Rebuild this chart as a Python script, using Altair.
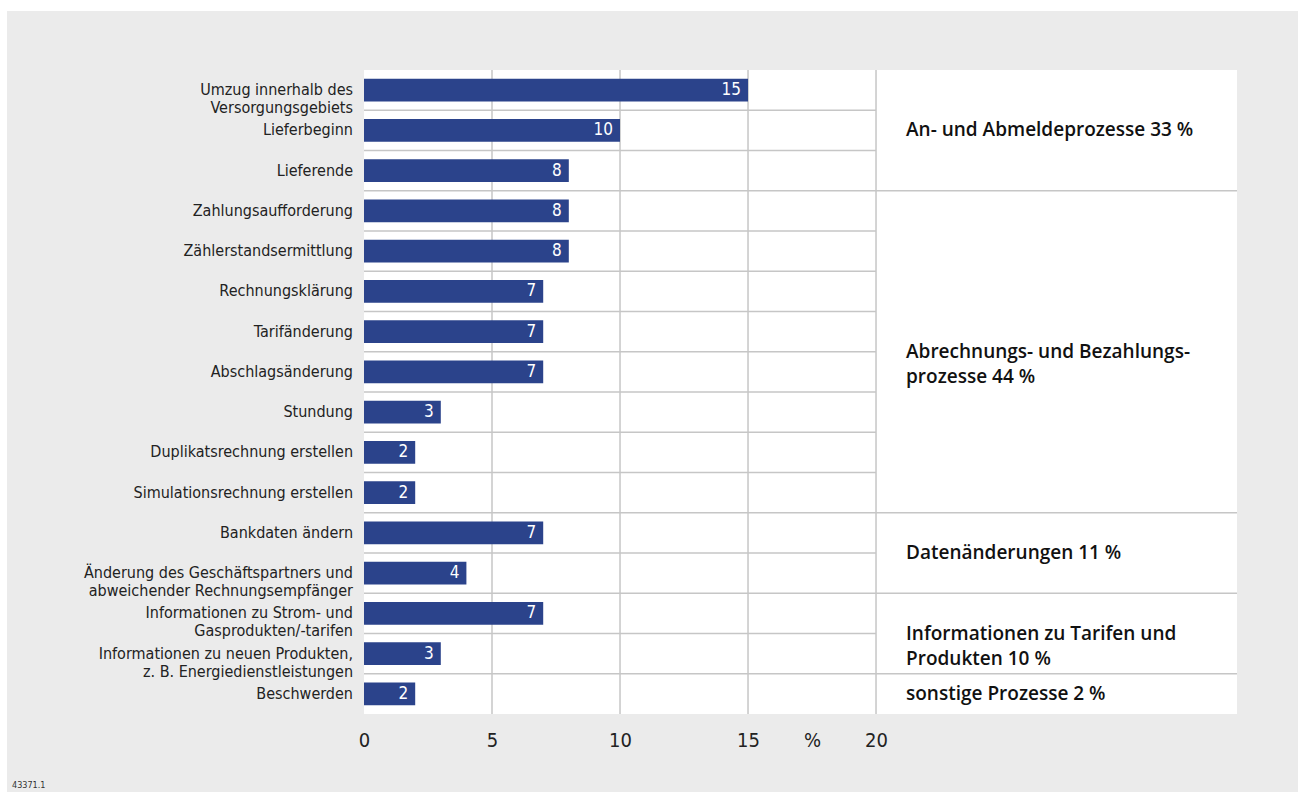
import altair as alt
import pandas as pd

# ---- data ----
labels = [
    "Umzug innerhalb des\nVersorgungsgebiets",
    "Lieferbeginn",
    "Lieferende",
    "Zahlungsaufforderung",
    "Zählerstandsermittlung",
    "Rechnungsklärung",
    "Tarifänderung",
    "Abschlagsänderung",
    "Stundung",
    "Duplikatsrechnung erstellen",
    "Simulationsrechnung erstellen",
    "Bankdaten ändern",
    "Änderung des Geschäftspartners und\nabweichender Rechnungsempfänger",
    "Informationen zu Strom- und\nGasprodukten/-tarifen",
    "Informationen zu neuen Produkten,\nz. B. Energiedienstleistungen",
    "Beschwerden",
]
values = [15, 10, 8, 8, 8, 7, 7, 7, 3, 2, 2, 7, 4, 7, 3, 2]
group_names = [
    "An- und Abmeldeprozesse 33 %",
    "Abrechnungs- und Bezahlungs-\nprozesse 44 %",
    "Datenänderungen 11 %",
    "Informationen zu Tarifen und\nProdukten 10 %",
    "sonstige Prozesse 2 %",
]
group_sizes = [3, 8, 2, 2, 1]
tick_values = [0, 5, 10, 15, 17.5, 20]
grid_values = [5, 10, 15, 20]
source_note = "43371.1"

# ---- styling ----
BG = "#ebebeb"
BAR = "#2b438b"
GRID = "#c6c6c6"
FONT_NARROW = "DejaVu Sans Condensed, sans-serif"
FONT_GROUP = "Open Sans, Noto Sans, sans-serif"

n = len(labels)
XMAX = 34.1
PLOT_W, PLOT_H = 873, 644

bars = pd.DataFrame({
    "label": labels,
    "value": values,
    "yc": [i + 0.5 for i in range(n)],
    "y0": [i + 0.5 - 0.285 for i in range(n)],
    "y1": [i + 0.5 + 0.285 for i in range(n)],
})

starts = []
s = 0
for g in group_sizes:
    starts.append(s)
    s += g
groups = pd.DataFrame({
    "name": group_names,
    "yc": [st + g / 2 for st, g in zip(starts, group_sizes)],
})
group_bounds = [st + g for st, g in zip(starts, group_sizes)][:-1]
row_bounds = pd.DataFrame({"y": list(range(1, n)), "x0": 0, "x1": 20})
grp_bounds = pd.DataFrame({"y": group_bounds, "x0": 20, "x1": XMAX})
grid = pd.DataFrame({"x": grid_values, "y0": 0, "y1": n})

xs = alt.Scale(domain=[0, XMAX], nice=False, zero=False)
ys = alt.Scale(domain=[0, n], reverse=True, nice=False, zero=False)

panel = alt.Chart(pd.DataFrame({"a": [0]})).mark_rect(color=BG).encode(
    x=alt.value(7 - 364), x2=alt.value(1298 - 364),
    y=alt.value(11 - 70), y2=alt.value(792 - 70),
)
white = alt.Chart(pd.DataFrame({"a": [0]})).mark_rect(color="white").encode(
    x=alt.value(0), x2=alt.value(PLOT_W), y=alt.value(0), y2=alt.value(PLOT_H)
)

gridlines = alt.Chart(grid).mark_rule(color=GRID, strokeWidth=1.5).encode(
    x=alt.X("x:Q", scale=xs, axis=alt.Axis(
        values=tick_values, labelExpr="datum.value == 17.5 ? '%' : datum.label",
        domain=False, ticks=False, grid=False, labelFontSize=20,
        labelFont=FONT_NARROW, labelColor="#222222", labelPadding=16,
        title=None, labelFlush=False, zindex=2)),
    y=alt.Y("y0:Q", scale=ys, axis=None),
    y2="y1:Q",
)

rows = alt.Chart(row_bounds).mark_rule(color=GRID, strokeWidth=1.5).encode(
    x=alt.X("x0:Q", scale=xs), x2="x1:Q", y=alt.Y("y:Q", scale=ys)
)
grows = alt.Chart(grp_bounds).mark_rule(color=GRID, strokeWidth=1.5).encode(
    x=alt.X("x0:Q", scale=xs), x2="x1:Q", y=alt.Y("y:Q", scale=ys)
)

barmarks = alt.Chart(bars).mark_rect(color=BAR).encode(
    x=alt.X("value:Q", scale=xs), x2=alt.datum(0),
    y=alt.Y("y0:Q", scale=ys), y2="y1:Q",
)

vals = alt.Chart(bars).mark_text(
    align="right", baseline="middle", dx=-7, color="white",
    fontSize=17, font=FONT_NARROW,
).encode(x=alt.X("value:Q", scale=xs), y=alt.Y("yc:Q", scale=ys), text="value:Q")

ylabels = alt.Chart(bars).mark_text(
    align="right", baseline="middle", dx=-11, color="#222222",
    fontSize=16, font=FONT_NARROW, lineBreak="\n", lineHeight=18,
).encode(x=alt.datum(0, scale=xs), y=alt.Y("yc:Q", scale=ys), text="label:N")

glabels = alt.Chart(groups).mark_text(
    align="left", baseline="middle", dx=30, color="#111111",
    fontSize=19, font=FONT_GROUP, fontWeight=600, lineBreak="\n", lineHeight=25,
).encode(x=alt.datum(20, scale=xs), y=alt.Y("yc:Q", scale=ys), text="name:N")

note = alt.Chart(pd.DataFrame({"t": [source_note]})).mark_text(
    align="left", baseline="bottom", fontSize=9, font=FONT_NARROW, color="#333333"
).encode(x=alt.value(12 - 364), y=alt.value(790 - 70), text="t:N")

chart = alt.layer(
    panel, white, gridlines, rows, grows, barmarks, vals, ylabels, glabels, note
).properties(
    width=PLOT_W, height=PLOT_H,
    padding={"left": 364, "top": 70, "right": 1298 - 364 - PLOT_W, "bottom": 792 - 70 - PLOT_H},
    autosize=alt.AutoSizeParams(type="none"),
    background="white",
).configure_view(stroke=None)

chart.save("out.html", embed_options={"renderer": "svg", "actions": False})
